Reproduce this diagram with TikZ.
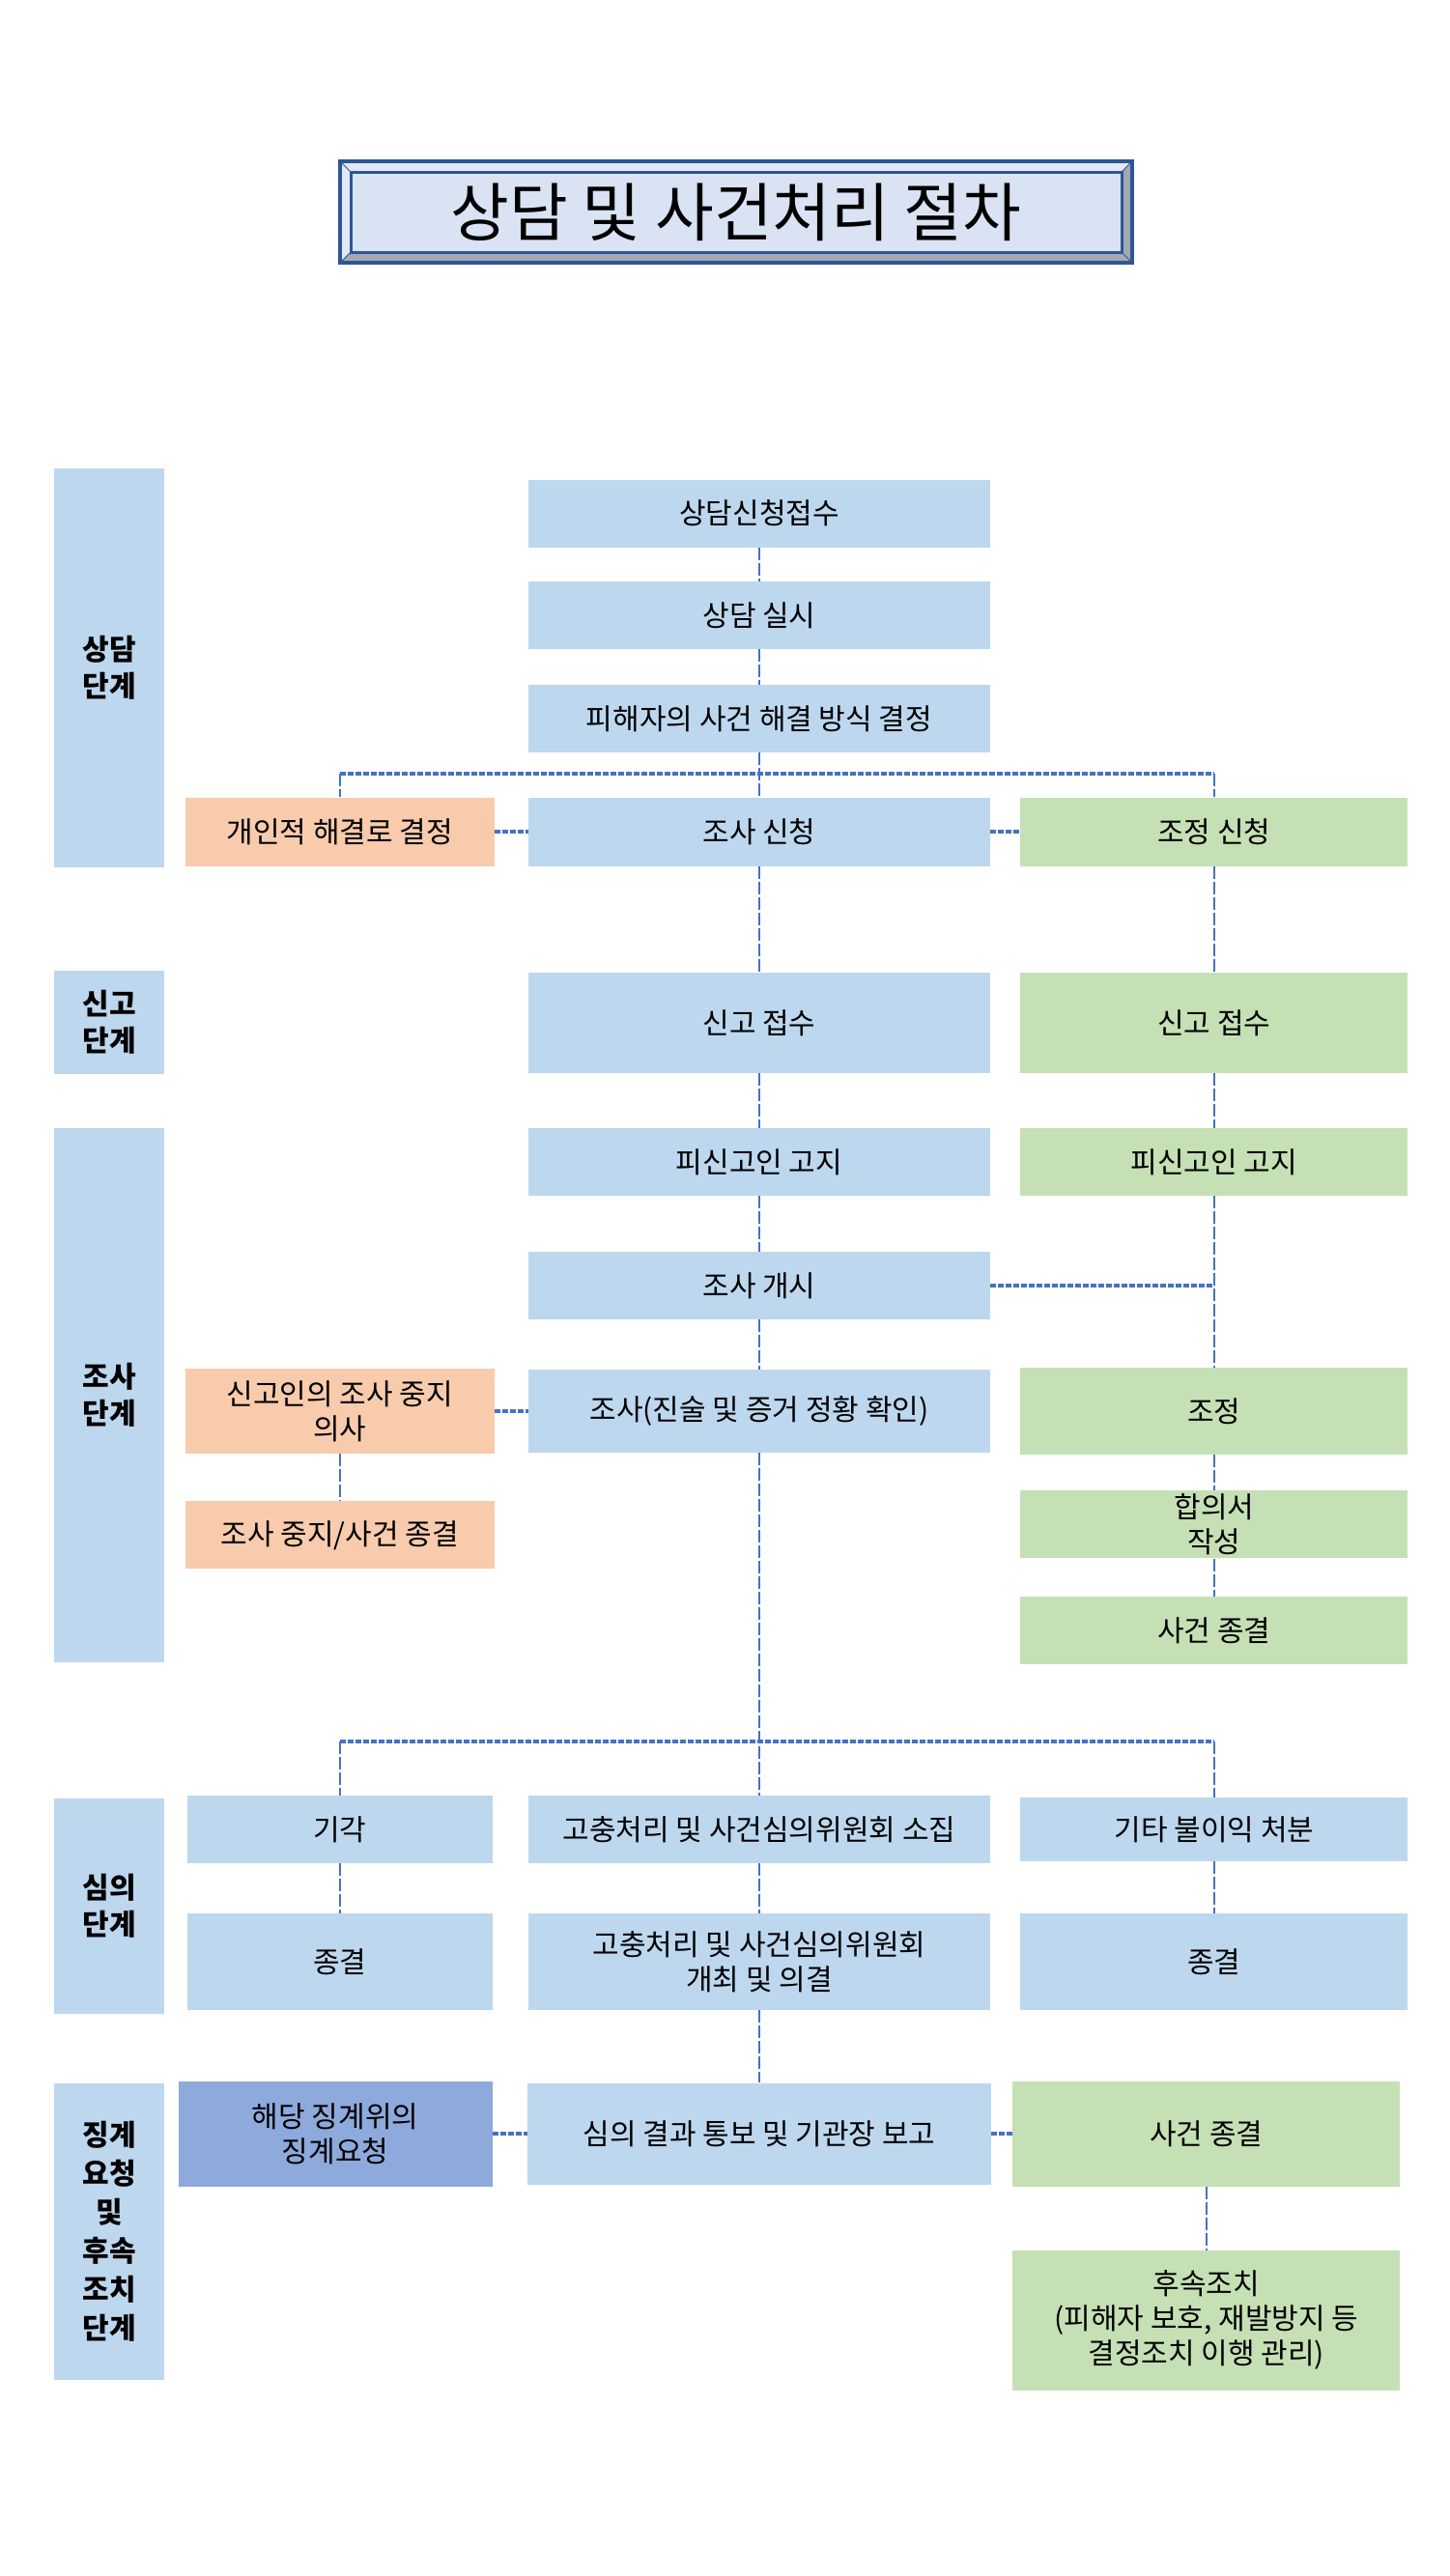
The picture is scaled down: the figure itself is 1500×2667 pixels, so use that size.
\documentclass[tikz,border=0pt]{standalone}
\usepackage{fontspec}
\setmainfont{Noto Sans CJK KR}
\usepackage{tikz}
\usetikzlibrary{positioning}
\definecolor{bxBlue}{HTML}{BDD7EE}
\definecolor{bxOrange}{HTML}{F8CBAD}
\definecolor{bxGreen}{HTML}{C5E0B4}
\definecolor{bxDark}{HTML}{8EA9DB}
\definecolor{lnBlue}{HTML}{4472C4}
\definecolor{ttlLine}{HTML}{2F5597}
\definecolor{ttlFill}{HTML}{DAE3F3}
\definecolor{bvLight}{HTML}{E2E9F6}
\definecolor{bvDark}{HTML}{A3A8B2}
\newcommand\bxfont{\fontsize{30}{36}\selectfont}
\newcommand\stfont{\fontsize{30}{38}\selectfont\bfseries}
\newcommand\ttlfont{\fontsize{66}{72}\selectfont}
\tikzset{bx/.style={fill=bxBlue,align=center,inner sep=2pt,font=\bxfont,minimum width=478pt,minimum height=70pt},
 ob/.style={bx,fill=bxOrange,minimum width=320pt},
 gb/.style={bx,fill=bxGreen,minimum width=401pt},
 db/.style={bx,fill=bxDark,minimum width=325pt},
 sg/.style={fill=bxBlue,align=center,font=\stfont,inner sep=0pt,minimum width=114pt},
 vl/.style={draw=lnBlue,line width=2pt,dash pattern=on 13pt off 3pt},
 hl/.style={draw=lnBlue,line width=3.5pt,dash pattern=on 6pt off 2pt}}
\begin{document}
\begin{tikzpicture}[x=1pt,y=-1pt]
\useasboundingbox[fill=white](0,0)rectangle(1500,2667);
% title frame
\fill[bvLight](352,167)rectangle(1172,272);
\fill[bvDark](352,272)--(1172,272)--(1172,167)--(1161,178)--(1161,261)--(363,261)--cycle;
\draw[ttlLine,line width=1pt](352,167)--(363,178) (1172,167)--(1161,178) (352,272)--(363,261) (1172,272)--(1161,261);
\draw[ttlLine,line width=4pt](352,167)rectangle(1172,272);
\node[fill=ttlFill,draw=ttlLine,line width=3pt,minimum width=798pt,minimum height=83pt,inner sep=0pt,font=\ttlfont](ttl)at(762,219.5){상담 및 사건처리 절차};
% stages
\node[sg,minimum height=413pt](st1)at(113,691.5){상담\\단계};
\node[sg,minimum height=107pt](st2)at(113,1058.5){신고\\단계};
\node[sg,minimum height=553pt](st3)at(113,1444.5){조사\\단계};
\node[sg,minimum height=223pt](st4)at(113,1973.5){심의\\단계};
\node[sg,minimum height=307pt,font=\fontsize{30}{40}\selectfont\bfseries](st5)at(113,2310.5){징계\\요청\\및\\후속\\조치\\단계};
% middle column
\node[bx](rcv)at(786,531.5){상담신청접수};
\node[bx](cns)at(786,637){상담 실시};
\node[bx](dec)at(786,744){피해자의 사건 해결 방식 결정};
\node[bx,minimum height=71pt](inv)at(786,861){조사 신청};
\node[ob,minimum height=71pt,left=35pt of inv](prv){개인적 해결로 결정};
\node[gb,minimum height=71pt,right=31pt of inv](med){조정 신청};
\node[bx,minimum height=104pt](rep)at(786,1059){신고 접수};
\node[gb,minimum height=104pt,right=31pt of rep](repg){신고 접수};
\node[bx](ntf)at(786,1203){피신고인 고지};
\node[gb,right=31pt of ntf](ntfg){피신고인 고지};
\node[bx](opn)at(786,1331){조사 개시};
\node[bx,minimum height=86pt](exam)at(786,1461){조사(진술 및 증거 정황 확인)};
\node[ob,minimum height=88pt,left=35pt of exam](stp){신고인의 조사 중지\\의사};
\node[gb,minimum height=90pt,right=31pt of exam](adj){조정};
\node[ob,below=49pt of stp](stpe){조사 중지/사건 종결};
\node[gb,below=37pt of adj](agr){합의서\\작성};
\node[gb,below=39pt of agr](clsg){사건 종결};
\node[bx](cvk)at(786,1894){고충처리 및 사건심의위원회 소집};
\node[bx,minimum width=316pt,left=37pt of cvk](rej){기각};
\node[bx,minimum width=401pt,minimum height=66pt,right=31pt of cvk](oth){기타 불이익 처분};
\node[bx,minimum height=100pt](meet)at(786,2031){고충처리 및 사건심의위원회\\개최 및 의결};
\node[bx,minimum width=316pt,minimum height=100pt,left=37pt of meet](end1){종결};
\node[bx,minimum width=401pt,minimum height=100pt,right=31pt of meet](end2){종결};
\node[bx,minimum width=480pt,minimum height=105pt](rpt)at(786,2209){심의 결과 통보 및 기관장 보고};
\node[db,minimum height=109pt,left=36pt of rpt](disc){해당 징계위의\\징계요청};
\node[gb,minimum height=109pt,right=22pt of rpt](fin){사건 종결};
\node[gb,minimum height=145pt,below=66pt of fin](fol){후속조치\\(피해자 보호, 재발방지 등\\결정조치 이행 관리)};
% connectors
\coordinate(j1)at(786,801);\coordinate(j2)at(786,1803);
\draw[vl](rcv)--(cns);\draw[vl](cns)--(dec);\draw[vl](dec)--(inv);
\draw[hl](j1-|prv)--(j1-|med);\draw[vl](j1-|prv)--(prv);\draw[vl](j1-|med)--(med);
\draw[hl](prv.east)--(inv.west);\draw[hl](inv.east)--(med.west);
\draw[vl](inv)--(rep);\draw[vl](med)--(repg);\draw[vl](rep)--(ntf);\draw[vl](repg)--(ntfg);
\draw[vl](ntf)--(opn);\draw[vl](ntfg)--(adj);\draw[hl](opn.east)--(opn.east-|ntfg);
\draw[vl](opn)--(exam);\draw[hl](stp.east)--(exam.west);\draw[vl](stp)--(stpe);
\draw[vl](adj)--(agr);\draw[vl](agr)--(clsg);
\draw[vl](exam)--(cvk);\draw[hl](j2-|rej)--(j2-|oth);\draw[vl](j2-|rej)--(rej);\draw[vl](j2-|oth)--(oth);
\draw[vl](rej)--(end1);\draw[vl](cvk)--(meet);\draw[vl](oth)--(end2);\draw[vl](meet)--(rpt);
\draw[hl](disc.east)--(rpt.west);\draw[hl](rpt.east)--(fin.west);\draw[vl](fin)--(fol);
\end{tikzpicture}
\end{document}
